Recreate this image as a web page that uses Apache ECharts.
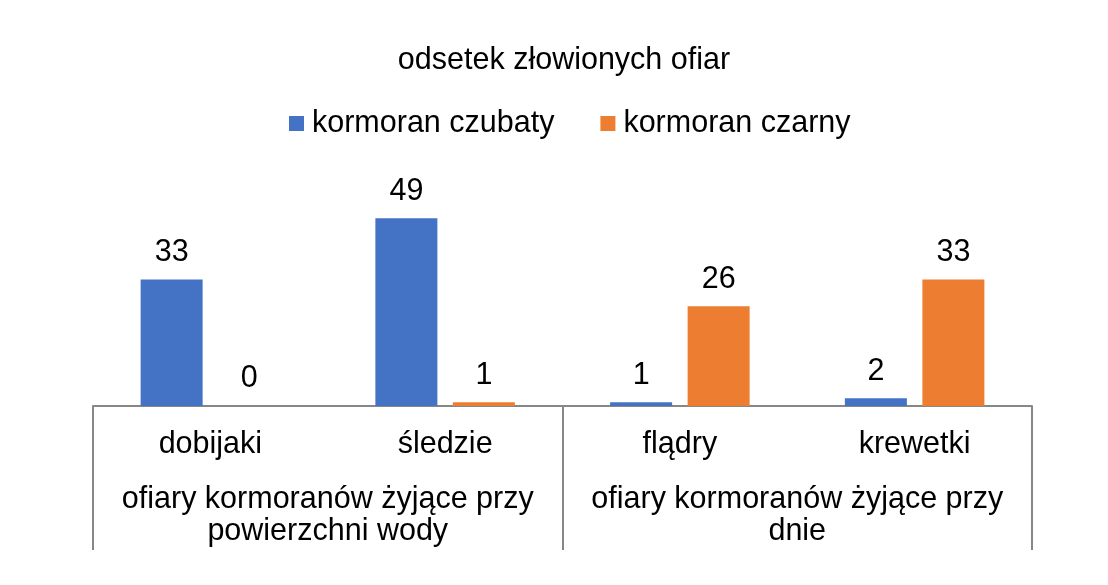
<!DOCTYPE html>
<html>
<head>
<meta charset="utf-8">
<script src="https://cdn.jsdelivr.net/npm/echarts@6/dist/echarts.min.js"></script>
<style>
  html, body { margin: 0; padding: 0; background: #fff; }
  #chart { width: 1108px; height: 585px; }
</style>
</head>
<body>
<div id="chart"></div>
<script>
// dane
var kategorie = ['dobijaki', 'śledzie', 'flądry', 'krewetki'];
var grupy = ['ofiary kormoranów żyjące przy\npowierzchni wody', 'ofiary kormoranów żyjące przy\ndnie'];
var czubaty = [33, 49, 1, 2];
var czarny = [0, 1, 26, 33];
var nazwy = ['kormoran czubaty', 'kormoran czarny'];

var font = 'Liberation Sans, Arial, sans-serif';
var szary = '#878787';

var myChart = echarts.init(document.getElementById('chart'));

var option = {
    animation: false,
    textStyle: { fontFamily: font },
    title: {
        text: 'odsetek złowionych ofiar',
        left: 564,
        textAlign: 'center',
        top: 46,
        padding: 0,
        textStyle: { fontSize: 30.5, fontWeight: 'normal', color: '#000', fontFamily: font, lineHeight: 30 }
    },
    legend: {
        data: nazwy,
        left: 289,
        top: 108,
        padding: 0,
        icon: 'rect',
        itemWidth: 15,
        itemHeight: 15,
        itemGap: 46,
        textStyle: { fontSize: 30.5, color: '#000', fontFamily: font, lineHeight: 30, padding: [0, 0, 0, 3] }
    },
    grid: { left: 93, right: 76, top: 176, bottom: 179 },
    xAxis: [
        {
            type: 'category',
            data: kategorie,
            position: 'bottom',
            axisLine: { show: true, lineStyle: { color: szary, width: 2 } },
            axisTick: { show: false },
            axisLabel: { fontSize: 30.5, color: '#000', fontFamily: font, margin: 24, lineHeight: 30, interval: 0 }
        },
        {
            type: 'category',
            data: grupy,
            position: 'bottom',
            axisLine: { show: false },
            axisTick: { show: true, length: 144, lineStyle: { color: szary, width: 2 } },
            axisLabel: { fontSize: 30.5, color: '#000', fontFamily: font, margin: 78, lineHeight: 32, interval: 0, align: 'center' }
        }
    ],
    yAxis: {
        type: 'value',
        min: 0,
        max: 60,
        show: false,
        splitLine: { show: false }
    },
    series: [
        {
            name: nazwy[0],
            type: 'bar',
            xAxisIndex: 0,
            data: czubaty,
            barWidth: 62,
            barGap: '25%',
            itemStyle: { color: '#4472C4' },
            label: { show: true, position: 'top', distance: 12, fontSize: 30.5, color: '#000', fontFamily: font, lineHeight: 30 }
        },
        {
            name: nazwy[1],
            type: 'bar',
            xAxisIndex: 0,
            data: czarny,
            barWidth: 62,
            barGap: '25%',
            itemStyle: { color: '#ED7D31' },
            label: { show: true, position: 'top', distance: 12, fontSize: 30.5, color: '#000', fontFamily: font, lineHeight: 30 }
        }
    ]
};

myChart.setOption(option);
</script>
</body>
</html>
